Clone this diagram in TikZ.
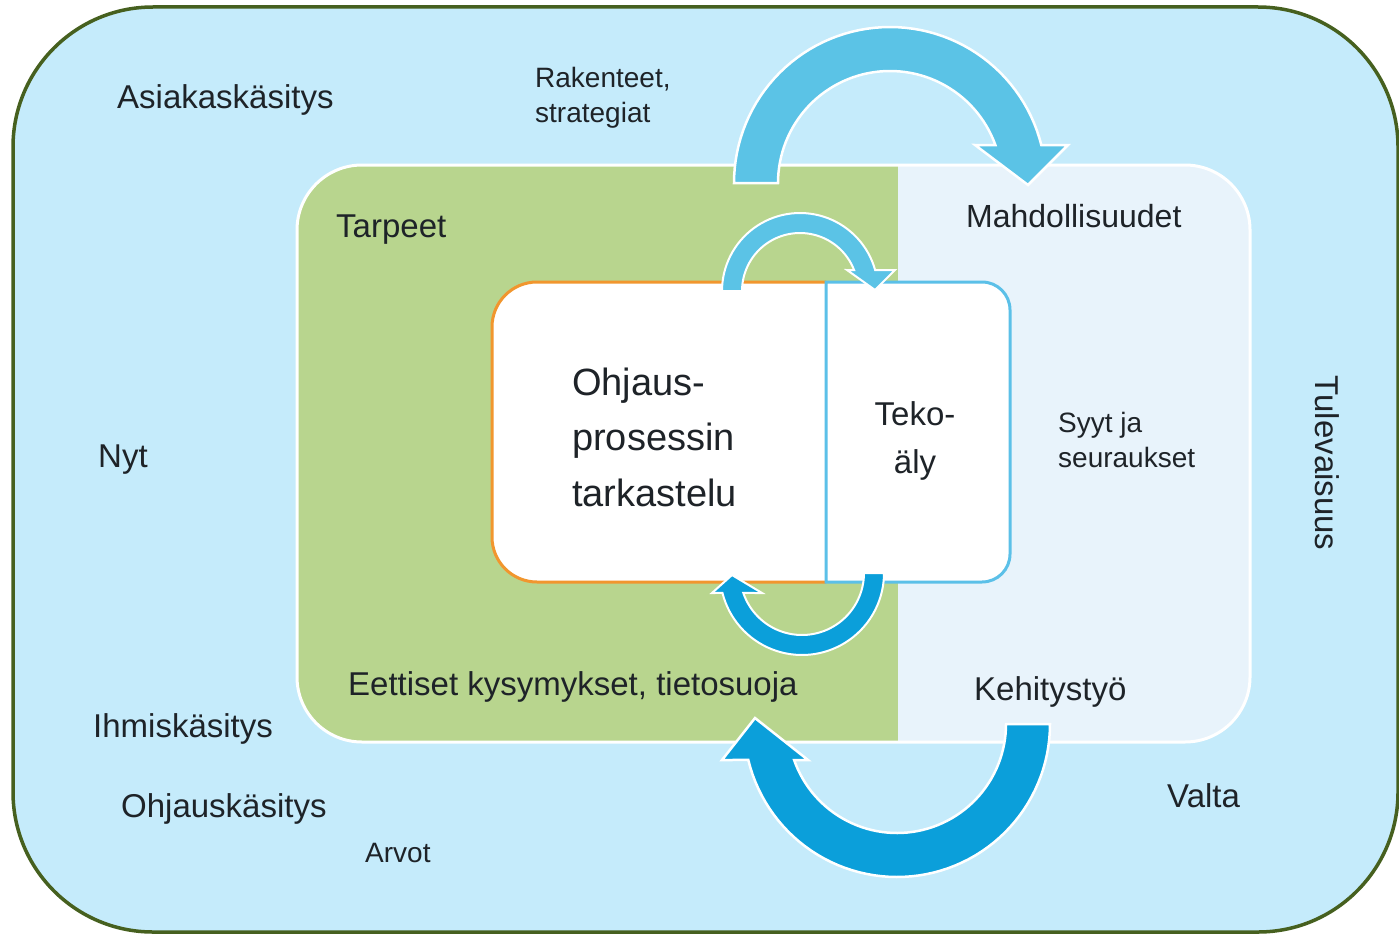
\documentclass[tikz,border=0pt]{standalone}
\usepackage{fontspec}
\setmainfont{Liberation Sans}
\definecolor{outerfill}{HTML}{C5EBFB}
\definecolor{outerline}{HTML}{46601F}
\definecolor{greenfill}{HTML}{B8D58E}
\definecolor{lightfill}{HTML}{E8F3FB}
\definecolor{orangeline}{HTML}{F1962E}
\definecolor{tekoline}{HTML}{5BC0E8}
\definecolor{arrlight}{HTML}{5BC3E6}
\definecolor{arrdark}{HTML}{0B9FDA}
\definecolor{txt}{HTML}{1E2328}
\begin{document}
\begin{tikzpicture}[x=1pt,y=-1pt,
  lbl/.style={inner sep=0pt, anchor=base west, text=txt, font=\fontsize{33}{40}\selectfont},
  lblsmall/.style={lbl, font=\fontsize{28}{34}\selectfont},
  lblbig/.style={lbl, font=\fontsize{38}{46}\selectfont},
  arrowshape/.style={draw=white, line width=2.5pt, line join=miter}]
\useasboundingbox (0,0) rectangle (1399,934);
% outer frame
\draw[fill=outerfill, draw=outerline, line width=3.5pt, rounded corners=140pt] (13,7) rectangle (1398,932);
% inner frame
\fill[lightfill, rounded corners=65pt] (297,165) rectangle (1250,742);
\begin{scope}
  \clip[rounded corners=65pt] (297,165) rectangle (1250,742);
  \fill[greenfill] (297,165) rectangle (898,742);
\end{scope}
\draw[white, line width=3pt, rounded corners=65pt] (297,165) rectangle (1250,742);
% centre boxes
\fill[white, rounded corners=45pt] (920,282) -- (492,282) -- (492,582) -- (920,582) -- cycle;
\draw[orangeline, line width=3pt, rounded corners=45pt] (826,282) -- (492,282) -- (492,582) -- (826,582);
\draw[tekoline, fill=white, line width=3pt] (826,282) -- (982,282) .. controls (997.5,282) and (1010,294.5) .. (1010,310) -- (1010,554) .. controls (1010,569.5) and (997.5,582) .. (982,582) -- (826,582) -- cycle;
% big top arrow
\begin{scope}[shift={(890,183)}]
  \path[arrowshape, fill=arrlight] plot[domain=180:345.9, samples=60] ({156*cos(\x)},{156*sin(\x)}) -- (178,-38) -- (138,2) -- (85,-38) -- plot[domain=340.2:180, samples=60] ({112*cos(\x)},{112*sin(\x)}) -- cycle;
\end{scope}
% small top arrow
\begin{scope}[shift={(800,291)}]
  \path[arrowshape, fill=arrlight, line width=2pt] plot[domain=180:344.4, samples=50] ({78*cos(\x)},{78*sin(\x)}) -- (95,-21) -- (75,-1) -- (47,-21) -- plot[domain=338.8:180, samples=50] ({58*cos(\x)},{58*sin(\x)}) -- cycle;
\end{scope}
% small bottom arrow
\begin{scope}[shift={(802,573)}]
  \path[arrowshape, fill=arrdark, line width=2pt] plot[domain=0:165.9, samples=50] ({82*cos(\x)},{82*sin(\x)}) -- (-90,20) -- (-70,2) -- (-40,20) -- plot[domain=161.2:0, samples=50] ({62*cos(\x)},{62*sin(\x)}) -- cycle;
\end{scope}
% big bottom arrow
\begin{scope}[shift={(897,724)}]
  \path[arrowshape, fill=arrdark] plot[domain=0:166.4, samples=60] ({153*cos(\x)},{153*sin(\x)}) -- (-175,36) -- (-142,-6) -- (-89,36) -- plot[domain=160.7:0, samples=60] ({109*cos(\x)},{109*sin(\x)}) -- cycle;
\end{scope}
% labels
\node[lbl] (asiak) at (117,108) {Asiakaskäsitys};
\node[lblsmall] (rak1) at (535,87) {Rakenteet,};
\node[lblsmall] (rak2) at (535,122) {strategiat};
\node[lbl] (tarp) at (336,237) {Tarpeet};
\node[lbl, font=\fontsize{32}{38}\selectfont] (mahd) at (966,227) {Mahdollisuudet};
\node[lblbig] (ohj1) at (572,395) {Ohjaus-};
\node[lblbig] (ohj2) at (572,450) {prosessin};
\node[lblbig] (ohj3) at (572,506) {tarkastelu};
\node[lbl, anchor=base] (teko1) at (915,425) {Teko-};
\node[lbl, anchor=base] (teko2) at (915,473) {äly};
\node[lblsmall] (syy1) at (1058,432) {Syyt ja};
\node[lblsmall] (syy2) at (1058,467) {seuraukset};
\node[lbl, anchor=center, rotate=-90] (tul) at (1327,463) {Tulevaisuus};
\node[lbl] (nyt) at (98,467) {Nyt};
\node[lbl] (eet) at (348,695) {Eettiset kysymykset, tietosuoja};
\node[lbl] (keh) at (974,700) {Kehitystyö};
\node[lbl] (ihm) at (93,737) {Ihmiskäsitys};
\node[lbl] (ohjk) at (121,817) {Ohjauskäsitys};
\node[lblsmall] (arvot) at (365,862) {Arvot};
\node[lbl] (valta) at (1167,807) {Valta};
\end{tikzpicture}
\end{document}
